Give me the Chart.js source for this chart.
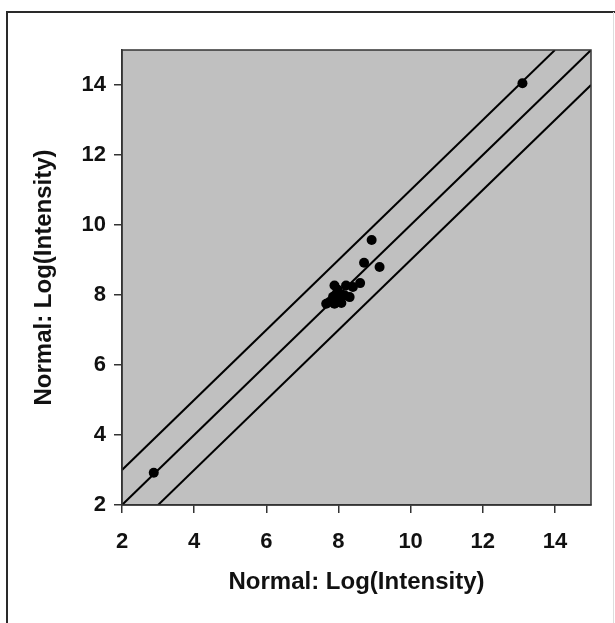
<!DOCTYPE html>
<html>
<head>
<meta charset="utf-8">
<script src="https://cdn.jsdelivr.net/npm/chart.js@4/dist/chart.umd.min.js"></script>
<style>
  html, body { margin: 0; padding: 0; background: #ffffff; }
  #wrap { position: relative; width: 615px; height: 623px; }
  canvas { display: block; }
</style>
</head>
<body>
<div id="wrap"><canvas id="c" width="615" height="623"></canvas></div>
<script>
// ---- data ----
const pointX = [2.88, 13.1, 8.92, 8.71, 9.14, 8.60, 7.89, 8.21, 8.40, 7.94, 8.17, 7.75, 7.89, 8.08, 8.31, 7.66, 7.98, 8.05, 7.85];
const pointY = [2.92, 14.05, 9.57, 8.92, 8.80, 8.34, 8.27, 8.27, 8.23, 8.03, 7.99, 7.80, 7.75, 7.77, 7.94, 7.75, 8.15, 7.88, 7.95];

const identityX = [2, 15];
const identityY = [2, 15];
const upperX = [2, 14];
const upperY = [3, 15];
const lowerX = [3, 15];
const lowerY = [2, 14];

const xTicks = [2, 4, 6, 8, 10, 12, 14];
const yTicks = [2, 4, 6, 8, 10, 12, 14];
const xTitle = 'Normal: Log(Intensity)';
const yTitle = 'Normal: Log(Intensity)';

// ---- build ----
const zip = (xs, ys) => xs.map((x, i) => ({ x: x, y: ys[i] }));
const FONT = '"Liberation Sans", Arial, sans-serif';

const decor = {
  id: 'decor',
  beforeDraw(chart) {
    const { ctx, chartArea: a } = chart;
    ctx.save();
    ctx.fillStyle = '#c0c0c0';
    ctx.fillRect(a.left, a.top, a.right - a.left, a.bottom - a.top);
    ctx.restore();
  },
  afterDraw(chart) {
    const { ctx, chartArea: a } = chart;
    ctx.save();
    ctx.strokeStyle = '#333333';
    ctx.lineWidth = 1.5;
    ctx.strokeRect(a.left, a.top, a.right - a.left, a.bottom - a.top);
    // outer frame
    ctx.strokeStyle = '#2a2a2a';
    ctx.lineWidth = 2;
    ctx.beginPath();
    ctx.moveTo(7, 630);
    ctx.lineTo(7, 12);
    ctx.lineTo(615, 12);
    ctx.stroke();
    ctx.strokeStyle = '#dddddd';
    ctx.lineWidth = 1;
    ctx.beginPath();
    ctx.moveTo(613.5, 12);
    ctx.lineTo(613.5, 630);
    ctx.stroke();
    ctx.restore();
  }
};

const lineDs = (xs, ys) => ({
  type: 'line',
  data: zip(xs, ys),
  borderColor: '#000000',
  borderWidth: 2,
  pointRadius: 0,
  fill: false,
  tension: 0
});

new Chart(document.getElementById('c'), {
  type: 'scatter',
  data: {
    datasets: [
      lineDs(upperX, upperY),
      lineDs(identityX, identityY),
      lineDs(lowerX, lowerY),
      {
        type: 'scatter',
        data: zip(pointX, pointY),
        backgroundColor: '#000000',
        borderColor: '#000000',
        pointRadius: 5,
        borderWidth: 0
      }
    ]
  },
  plugins: [decor],
  options: {
    responsive: false,
    animation: false,
    devicePixelRatio: 1,
    layout: { padding: { left: 0, top: 50, right: 24, bottom: 0 } },
    plugins: { legend: { display: false }, tooltip: { enabled: false } },
    scales: {
      x: {
        type: 'linear',
        min: 2, max: 15,
        afterBuildTicks: s => { s.ticks = xTicks.map(v => ({ value: v })); },
        afterFit: s => { s.height = 118; },
        border: { display: true, color: '#333333', width: 1.5 },
        grid: { display: true, drawOnChartArea: false, drawTicks: true, tickLength: 8, color: '#333333', lineWidth: 1.5 },
        ticks: { color: '#111111', font: { family: FONT, size: 22, weight: 'bold' }, padding: 16, maxRotation: 0 },
        title: { display: true, text: xTitle, color: '#111111', font: { family: FONT, size: 24, weight: 'bold' }, padding: { top: 0, bottom: 26 } }
      },
      y: {
        type: 'linear',
        min: 2, max: 15,
        afterBuildTicks: s => { s.ticks = yTicks.map(v => ({ value: v })); },
        afterFit: s => { s.width = 122; },
        border: { display: true, color: '#333333', width: 1.5 },
        grid: { display: true, drawOnChartArea: false, drawTicks: true, tickLength: 8, color: '#333333', lineWidth: 1.5 },
        ticks: { color: '#111111', font: { family: FONT, size: 22, weight: 'bold' }, padding: 8 },
        title: { display: true, text: yTitle, color: '#111111', font: { family: FONT, size: 24, weight: 'bold' }, padding: { top: 30, bottom: 0 } }
      }
    }
  }
});
</script>
</body>
</html>
